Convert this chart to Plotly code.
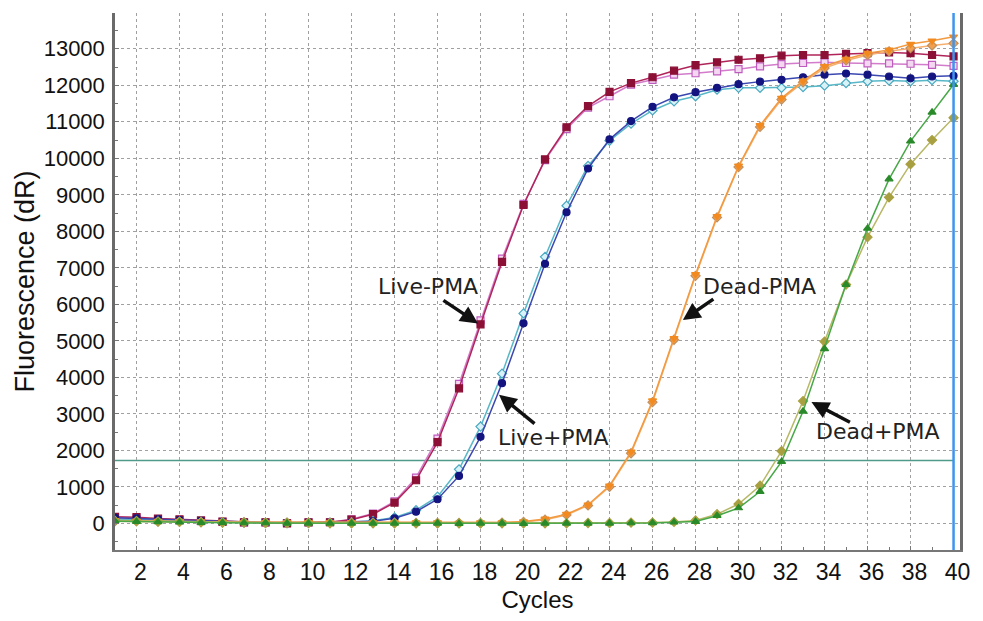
import plotly.graph_objects as go

cycles = list(range(1, 41))

live_minus_pma_a = [180, 170, 130, 110, 80, 50, 30, 30, 0, 30, 30, 100, 250, 570, 1180, 2225, 3700, 5450, 7160, 8720,
                    9970, 10850, 11430, 11820, 12060, 12220, 12400, 12550, 12630, 12700, 12740, 12810, 12830, 12830, 12860, 12880, 12900, 12880, 12830, 12790]
live_minus_pma_b = [150, 140, 110, 90, 60, 40, 20, 20, 10, 20, 30, 110, 270, 600, 1250, 2320, 3820, 5560, 7250, 8750,
                    9950, 10800, 11390, 11700, 12020, 12150, 12290, 12330, 12380, 12440, 12520, 12580, 12610, 12630, 12610, 12600, 12600, 12590, 12560, 12530]
live_plus_pma_a = [150, 140, 110, 90, 70, 40, 30, 20, 10, 20, 20, 30, 60, 140, 320, 660, 1300, 2370, 3840, 5480,
                   7110, 8520, 9720, 10520, 11020, 11410, 11670, 11810, 11930, 12030, 12100, 12150, 12220, 12290, 12320, 12290, 12240, 12190, 12240, 12260]
live_plus_pma_b = [120, 110, 90, 70, 50, 30, 20, 20, 10, 20, 20, 30, 70, 160, 360, 730, 1480, 2650, 4100, 5750,
                   7300, 8700, 9790, 10480, 10950, 11310, 11560, 11700, 11880, 11930, 11930, 11930, 11950, 11990, 12060, 12110, 12130, 12110, 12140, 12110]
dead_minus_pma_a = [80, 70, 60, 60, 50, 40, 30, 30, 20, 30, 30, 30, 20, 20, 20, 20, 10, 20, 20, 50,
                    120, 250, 510, 1030, 1960, 3360, 5070, 6820, 8410, 9790, 10900, 11650, 12120, 12520, 12720, 12880, 12970, 13130, 13220, 13330]
dead_minus_pma_b = [60, 60, 50, 50, 40, 30, 30, 20, 20, 20, 20, 20, 20, 20, 10, 10, 10, 10, 20, 40,
                    100, 230, 490, 1000, 1920, 3320, 5030, 6780, 8380, 9760, 10860, 11610, 12080, 12470, 12680, 12830, 12930, 13020, 13090, 13150]
dead_plus_pma_a = [60, 50, 40, 30, 20, 20, 10, 10, 0, 0, 0, 0, 0, 0, 0, 0, -10, 0, 0, -10,
                   0, 0, 0, 0, 10, 10, 30, 50, 210, 420, 870, 1690, 3070, 4780, 6540, 8080, 9430, 10470, 11260, 12020]
dead_plus_pma_b = [70, 60, 50, 40, 30, 20, 20, 10, 10, 10, 0, 0, 0, 0, 0, 0, 0, 0, 0, 0,
                   0, 0, 10, 10, 20, 20, 40, 80, 250, 530, 1030, 1980, 3350, 4980, 6540, 7840, 8930, 9840, 10500, 11110]

threshold = 1725
end_cycle = 40

series = [
    (live_minus_pma_b, "#d27ccb", "square", "#f4d8f2", "#c05cc0"),
    (live_minus_pma_a, "#b0245a", "square", "#8c1036", "#8c1036"),
    (live_plus_pma_b, "#58b8c8", "diamond", "#d8f2f8", "#48a8c0"),
    (live_plus_pma_a, "#3a48b0", "circle", "#141480", "#141480"),
    (dead_minus_pma_b, "#f5b070", "diamond", "#f0a050", "#c09060"),
    (dead_minus_pma_a, "#f29a40", "triangle-down", "#f28a20", "#f28a20"),
    (dead_plus_pma_b, "#b8b868", "diamond", "#a8a040", "#a8a040"),
    (dead_plus_pma_a, "#48a848", "triangle-up", "#2a8a2a", "#2a8a2a"),
]

fig = go.Figure()
for vals, lc, sym, mc, mlc in series:
    fig.add_trace(go.Scatter(
        x=cycles, y=vals, mode="lines+markers",
        line=dict(color=lc, width=1.5),
        marker=dict(symbol=sym, size=7, color=mc, line=dict(color=mlc, width=1.2)),
        showlegend=False, cliponaxis=True,
    ))

fig.add_shape(type="line", xref="x", yref="y", x0=1, x1=end_cycle, y0=threshold, y1=threshold,
              line=dict(color="#4f9a88", width=1.5), layer="below")
fig.add_shape(type="line", xref="x", yref="paper", x0=end_cycle, x1=end_cycle, y0=0, y1=1,
              line=dict(color="#3d95f0", width=2.5))

labels = [
    ("Live-PMA", 15.58, 6477, 17.88, 5477, -36, -24),
    ("Live+PMA", 21.41, 2343, 18.86, 3523, 37, 30),
    ("Dead-PMA", 30.97, 6477, 27.41, 5567, 32, -22),
    ("Dead+PMA", 36.50, 2526, 33.39, 3324, 40, 21),
]
for txt, tx, ty, ax_, ay_, dx, dy in labels:
    fig.add_annotation(x=tx, y=ty, text=txt, showarrow=False,
                       font=dict(family="DejaVu Sans", size=22, color="#222222"))
    fig.add_annotation(x=ax_, y=ay_, text="", showarrow=True, ax=dx, ay=dy,
                       arrowhead=2, arrowsize=1, arrowwidth=3.5, arrowcolor="#111111")

fig.update_layout(
    width=983, height=621,
    margin=dict(l=115, r=23, t=13, b=68),
    paper_bgcolor="white", plot_bgcolor="white",
    font=dict(family="Liberation Sans, Arial", color="#111111"),
)
fig.update_xaxes(
    range=[1, 40.3], tickmode="linear", tick0=0, dtick=2,
    showgrid=True, gridcolor="#a0a0a0", griddash="dot", gridwidth=1,
    showline=True, linecolor="#777777", linewidth=2, mirror=False,
    ticks="inside", ticklen=4, tickcolor="#777777",
    minor=dict(dtick=1, tick0=0, ticks="inside", ticklen=3, tickcolor="#777777", showgrid=False),
    tickfont=dict(size=23, family="Liberation Sans"), ticklabelshift=4,
    title=dict(text="Cycles", font=dict(size=24, family="Liberation Sans"), standoff=8),
    zeroline=False,
)
fig.update_yaxes(
    range=[-730, 13980], tickmode="linear", tick0=0, dtick=1000, tickformat="d",
    showgrid=True, gridcolor="#a0a0a0", griddash="dot", gridwidth=1,
    showline=True, linecolor="#6a6a6a", linewidth=2.5, mirror=True,
    ticks="inside", ticklen=4, tickcolor="#777777",
    minor=dict(dtick=500, tick0=0, ticks="inside", ticklen=3, tickcolor="#777777", showgrid=False),
    tickfont=dict(size=22, family="Liberation Sans"), ticklabelstandoff=3,
    title=dict(text="Fluorescence (dR)", font=dict(size=27, family="Liberation Sans"), standoff=2),
    zeroline=False,
)

fig.write_html("out.html")
